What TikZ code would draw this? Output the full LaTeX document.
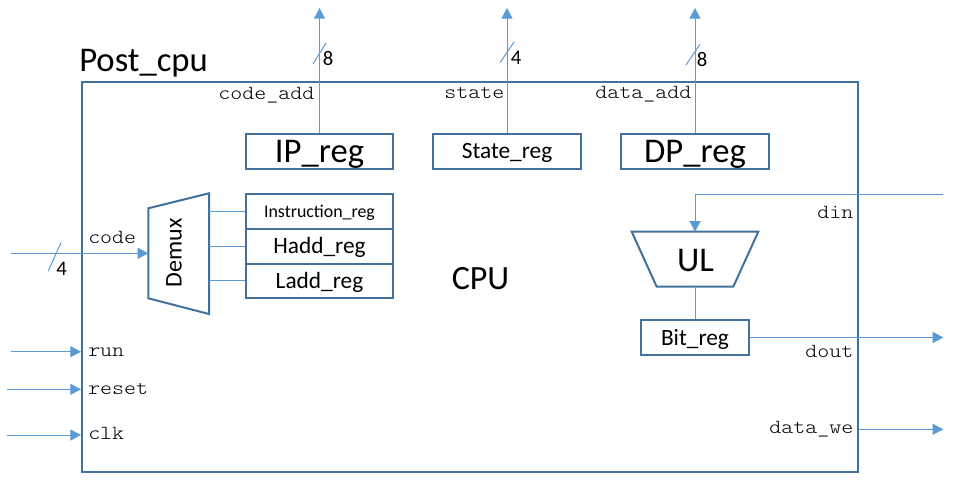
\documentclass[tikz,border=0pt]{standalone}
\usepackage{fontspec}
\setmainfont{Carlito}
\newfontfamily\monof{lmmonolt10-regular.otf}[FakeStretch=1.14]
\usetikzlibrary{arrows.meta,calc}
\definecolor{boxc}{HTML}{41719C}
\definecolor{sigc}{HTML}{5B9BD5}
\begin{document}
\begin{tikzpicture}[x=0.75pt,y=-0.75pt,
  box/.style={draw=boxc,line width=1.5pt,inner sep=0pt,text depth=0pt},
  boxline/.style={draw=boxc,line width=1.5pt,line join=miter},
  regbig/.style={box,minimum width=110.6pt,minimum height=26.25pt,font=\fontsize{26}{26}\selectfont,text height=16.7pt},
  regmid/.style={box,minimum width=110.6pt,minimum height=26.1pt,font=\fontsize{17.5}{17.5}\selectfont,text height=11.3pt},
  regsm/.style={box,minimum width=110.6pt,minimum height=26.1pt,font=\fontsize{13.4}{13.4}\selectfont,text height=8.6pt},
  sig/.style={draw=sigc,line width=0.75pt},
  arr/.style={sig,-{Triangle[length=8pt,width=8.3pt]}},
  mono/.style={font=\monof\fontsize{15}{15}\selectfont,inner sep=0pt},
  num/.style={font=\fontsize{15.5}{15.5}\selectfont,inner sep=0pt},
  bigtxt/.style={inner sep=0pt,font=\fontsize{26}{26}\selectfont,text height=16.7pt,text depth=0pt}]
\useasboundingbox (0,0) rectangle (960,491);

% outer block
\node[box,minimum width=582pt,minimum height=292.7pt] (cpu) at (470,277.2) {};
\node[anchor=base west,inner sep=0pt,font=\fontsize{26}{26}\selectfont] (title) at (79,71.7) {Post\_cpu};
\node[bigtxt,font=\fontsize{25.5}{25.5}\selectfont,text height=16.4pt] (cputxt) at (480.5,279) {CPU};

% top registers
\node[regbig] (ip) at (319.5,151.3) {IP\_reg};
\node[regmid] (st) at (507,151.2) {State\_reg};
\node[regbig] (dp) at (695,151.2) {DP\_reg};

\coordinate (ipo) at (320.5,8);
\coordinate (sto) at (507.3,8);
\coordinate (dpo) at (695.3,8);
\draw[arr] (ip.north) -- (ip.north |- ipo);
\draw[arr] (st.north) -- (st.north |- sto);
\draw[arr] (dp.north) -- (dp.north |- dpo);

\draw[sig] (313,64) -- (326,43);
\draw[sig] (500,62.7) -- (514.3,41.7);
\draw[sig] (686,65) -- (700,44.3);
\node[num,anchor=base west] (n1) at (322.7,66) {8};
\node[num,anchor=base west] (n2) at (510.7,64.3) {4};
\node[num,anchor=base west] (n3) at (696.7,66.7) {8};

\node[mono,anchor=base east] (lca) at (314.5,99.3) {code\_add};
\node[mono,anchor=base east] (lst) at (504.5,98.3) {state};
\node[mono,anchor=base east] (lda) at (691.5,98.3) {data\_add};

% register stack
\node[regsm] (ins) at (319.5,211.4) {Instruction\_reg};
\node[regmid] (hadd) at (319.5,246.2) {Hadd\_reg};
\node[regmid] (ladd) at (319.5,281.0) {Ladd\_reg};

% demux
\coordinate (d1) at (148.3,208.3);
\coordinate (d2) at (209,193.3);
\coordinate (d3) at (209,314);
\coordinate (d4) at (148.3,298.3);
\coordinate (dmin) at (148.3,253.3);
\draw[boxline] (d1) -- (d2) -- (d3) -- (d4) -- cycle;
\node[rotate=90,inner sep=0pt,font=\fontsize{18}{18}\selectfont,text height=11.6pt,text depth=0pt] (dmx) at (174,253) {Demux};
\draw[sig] (ins.west -| d2) -- (ins.west);
\draw[sig] (hadd.west -| d2) -- (hadd.west);
\draw[sig] (ladd.west -| d2) -- (ladd.west);

% code input
\coordinate (cin) at (11,253.3);
\draw[arr] (cin) -- (dmin);
\draw[sig] (48.3,271) -- (61,242.7);
\node[num,anchor=base west] (n4) at (56,276) {4};
\node[mono,anchor=base west] (lcode) at (88,244) {code};

% UL
\coordinate (u1) at (631.7,231.7);
\coordinate (u2) at (758.3,231.7);
\coordinate (u3) at (733.3,286.7);
\coordinate (u4) at (656.7,286.7);
\coordinate (ultop) at (695,231.7);
\coordinate (ulbot) at (695,286.7);
\draw[boxline] (u1) -- (u2) -- (u3) -- (u4) -- cycle;
\node[bigtxt] (ultxt) at (695.5,260) {UL};
\node[box,minimum width=81.5pt,minimum height=26.25pt,font=\fontsize{17.5}{17.5}\selectfont,text height=11.3pt] (bit) at (695,337.5) {Bit\_reg};
\draw[sig] (ulbot) -- (bit.north);

\coordinate (dinsrc) at (943.3,194.3);
\draw[arr] (dinsrc) -| (ultop);
\node[mono,anchor=base east] (ldin) at (853.5,219) {din};

\coordinate (doutc) at (943.3,339);
\draw[arr] (bit.east) -- (bit.east -| doutc);
\node[mono,anchor=base east] (ldout) at (853.5,357.3) {dout};

\coordinate (dwe) at (943.3,429.3);
\draw[arr] (cpu.east |- dwe) -- (dwe);
\node[mono,anchor=base east] (ldwe) at (853.5,433.3) {data\_we};

% left control inputs
\coordinate (runs) at (10.7,351.7);
\coordinate (rsts) at (7.3,389.3);
\coordinate (clks) at (7.3,435);
\draw[arr] (runs) -- (runs -| cpu.west);
\draw[arr] (rsts) -- (rsts -| cpu.west);
\draw[arr] (clks) -- (clks -| cpu.west);
\node[mono,anchor=base west] (lrun) at (88,356.7) {run};
\node[mono,anchor=base west] (lrst) at (88,394.3) {reset};
\node[mono,anchor=base west] (lclk) at (88,439) {clk};
\end{tikzpicture}
\end{document}
